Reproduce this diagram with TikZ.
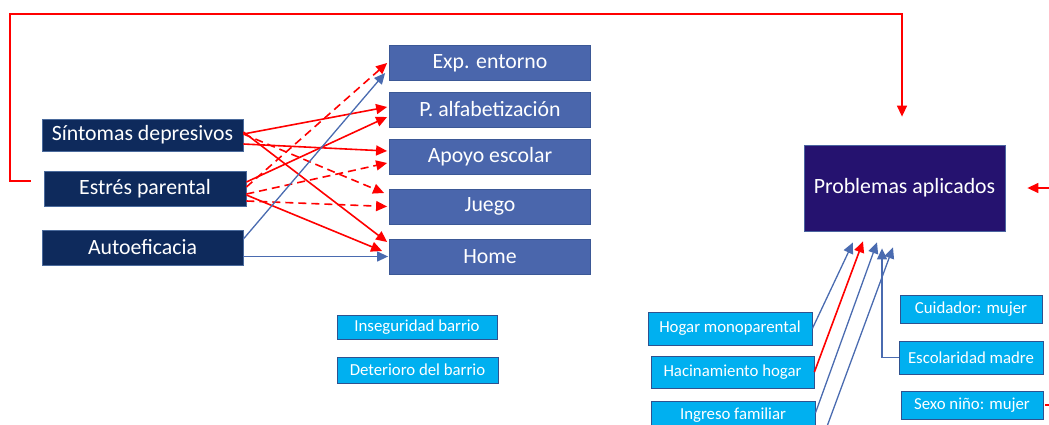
\documentclass[tikz,border=0pt]{standalone}
\usepackage{fontspec}
\setmainfont{Carlito}
\usepackage{xcolor}
\usepackage{tikz}
\usetikzlibrary{calc,arrows.meta}

\definecolor{predfill}{HTML}{0E2A5C}
\definecolor{predline}{HTML}{4A6A9C}
\definecolor{medfill}{HTML}{4A66AC}
\definecolor{medline}{HTML}{3B5896}
\definecolor{probfill}{HTML}{25126F}
\definecolor{probline}{HTML}{4A64A0}
\definecolor{ctrlfill}{HTML}{00B0F0}
\definecolor{ctrlline}{HTML}{2F528F}
\definecolor{arrowblue}{HTML}{4A6BB0}
\definecolor{pptred}{HTML}{FF0000}

\tikzset{
  bigfont/.style={font=\fontsize{21.8}{26}\selectfont},
  smallfont/.style={font=\fontsize{16.8}{20}\selectfont},
  predbox/.style={bigfont, draw=predline, fill=predfill, text=white,
    minimum width=201pt, minimum height=34pt, inner sep=0pt, line width=0.8pt},
  medbox/.style={bigfont, draw=medline, fill=medfill, text=white,
    minimum width=201pt, minimum height=35pt, inner sep=0pt, line width=0.8pt},
  probbox/.style={bigfont, draw=probline, fill=probfill, text=white,
    minimum width=201pt, minimum height=86pt, inner sep=0pt, line width=0.8pt},
  ctrlbox/.style={smallfont, draw=ctrlline, fill=ctrlfill, text=white,
    inner sep=0pt, line width=0.8pt},
  redarrow/.style={pptred, line width=1.6pt, -{Triangle[length=11pt,width=10pt]}},
  dasharrow/.style={redarrow, dash pattern=on 8pt off 5pt},
  bluearrow/.style={arrowblue, line width=1.3pt, -{Triangle[length=11pt,width=10pt]}},
}

\begin{document}
\begin{tikzpicture}[x=1pt,y=-1pt]
        \useasboundingbox (0,0) rectangle (1049,424);
        \clip (0,0) rectangle (1049,424);

        % predictores
        \node[predbox, minimum height=32pt] (sintomas) at (142.5,135) {Síntomas depresivos};
        \node[predbox, minimum width=202pt, minimum height=35pt] (estres) at (145,188.5) {Estrés parental};
        \node[predbox, minimum height=35pt] (autoef) at (142.5,247.5) {Autoeficacia};

        % mediadores
        \foreach \n/\y/\t in {expent/63/Exp. entorno, palfa/109.5/P. alfabetización,
            apoyo/157/Apoyo escolar, juego/206.5/Juego, home/256.5/Home} {
            \node[medbox] (\n) at (490,\y) {\t};
        }

        \node[probbox] (prob) at (904.5,188) {Problemas aplicados};

        % controles
        \node[ctrlbox, minimum width=160pt, minimum height=24pt] (inseg) at (417,327) {Inseguridad barrio};
        \node[ctrlbox, minimum width=161pt, minimum height=26pt] (deter) at (417.5,370) {Deterioro del barrio};
        \node[ctrlbox, minimum width=164pt, minimum height=33pt] (hogar) at (730,328.5) {Hogar monoparental};
        \node[ctrlbox, minimum width=163pt, minimum height=32pt] (hacin) at (732.5,372) {Hacinamiento hogar};
        \node[ctrlbox, minimum width=164pt, minimum height=27pt] (ingreso) at (733,415) {Ingreso familiar};
        \node[ctrlbox, minimum width=142pt, minimum height=28pt] (cuidador) at (971,309) {Cuidador: mujer};
        \node[ctrlbox, minimum width=144pt, minimum height=33pt] (escol) at (971,357.5) {Escolaridad madre};
        \node[ctrlbox, minimum width=142pt, minimum height=28pt] (sexo) at (972,405) {Sexo niño: mujer};

        % efectos de los predictores
        \draw[redarrow] ([yshift=1pt]sintomas.east) -- ([xshift=-2pt,yshift=2.5pt]palfa.west);
        \draw[redarrow] ([yshift=-9pt]sintomas.east) -- ([xshift=-2pt,yshift=6pt]apoyo.west);
        \draw[redarrow] ([yshift=3pt]sintomas.east) -- ([xshift=-2pt,yshift=14.5pt]home.west);
        \draw[dasharrow] ([yshift=1pt]sintomas.east) -- ([xshift=-5pt,yshift=13.5pt]juego.west);
        \draw[dasharrow] ([yshift=1.5pt]estres.east) -- ([xshift=-2pt]expent.west);
        \draw[redarrow] ([yshift=6.5pt]estres.east) -- ([xshift=-2pt,yshift=-7.5pt]palfa.west);
        \draw[dasharrow] ([yshift=-5.5pt]estres.east) -- ([xshift=-2pt,yshift=-6pt]apoyo.west);
        \draw[dasharrow] ([yshift=-12.5pt]estres.east) -- ([xshift=-2pt]juego.west);
        \draw[redarrow] ([yshift=-6.5pt]estres.east) -- ([xshift=-7pt,yshift=5.5pt]home.west);
        \draw[bluearrow] ([yshift=8.5pt]autoef.east) -- ([xshift=-4pt,yshift=-10pt]expent.west);
        \draw[bluearrow] ([yshift=-9pt]autoef.east) -- ([xshift=-1pt]home.west);

        % lazo superior
        \coordinate (corner) at (10,14);
        \draw[redarrow, line width=1.4pt] ([xshift=-13pt,yshift=7.5pt]estres.west) -| (corner)
            -| ([xshift=-2.5pt,yshift=28pt]prob.north);

        % entradas por la derecha
        \coordinate (rightin) at (1052,188);
        \draw[redarrow, line width=1.4pt] (rightin) -- ([xshift=22pt]prob.east);
        \coordinate (rightout) at (1052,405);
        \draw[pptred, line width=1.4pt] ([xshift=2pt]sexo.east) -- (rightout);

        % controles hacia problemas aplicados
        \coordinate (offpage) at (822,440);
        \draw[bluearrow] (hogar.east) -- ([xshift=-51.5pt,yshift=-11pt]prob.south);
        \draw[redarrow] (hacin.east) -- ([xshift=-41.5pt,yshift=-10pt]prob.south);
        \draw[bluearrow] ([yshift=2pt]ingreso.east) -- ([xshift=-27.5pt,yshift=-11pt]prob.south);
        \draw[bluearrow] (offpage) -- ([xshift=-11.5pt,yshift=-16pt]prob.south);
        \draw[bluearrow] (escol.west) -| ([xshift=-22.5pt,yshift=-17pt]prob.south);
\end{tikzpicture}
\end{document}
